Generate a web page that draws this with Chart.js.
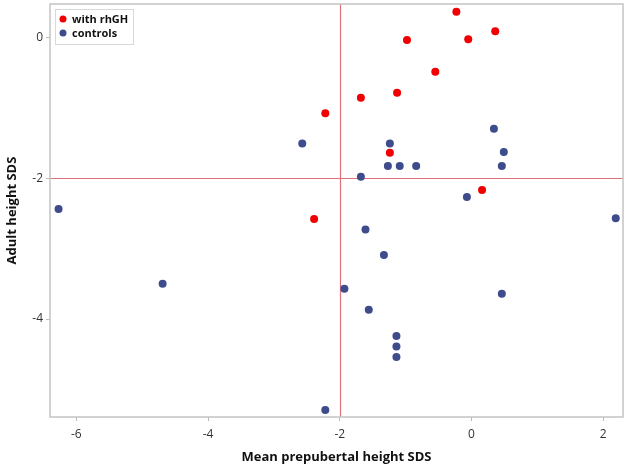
<!DOCTYPE html>
<html>
<head>
<meta charset="utf-8">
<script src="https://cdn.jsdelivr.net/npm/chart.js@4/dist/chart.umd.min.js"></script>
<style>
html,body{margin:0;padding:0;background:#fff;}
#wrap{width:627px;height:465px;position:relative;}
</style>
</head>
<body>
<div id="wrap"><canvas id="c"></canvas></div>
<script>
const seriesNames = ["with rhGH", "controls"];
const rhghX = [-0.23, 0.36, -0.98, -0.05, -0.55, -1.13, -1.68, -2.22, -1.24, 0.16, -2.39];
const rhghY = [0.36, 0.085, -0.04, -0.03, -0.49, -0.79, -0.86, -1.08, -1.64, -2.17, -2.58];
const ctrlX = [-2.57, 0.34, -1.24, 0.49, -1.27, -1.09, -0.84, 0.46, -1.68, -0.07, 2.19, -1.61, -6.27, -4.69, -1.33, -1.93, 0.46, -1.56, -1.14, -1.14, -1.14, -2.22];
const ctrlY = [-1.51, -1.30, -1.51, -1.63, -1.83, -1.83, -1.83, -1.83, -1.98, -2.27, -2.57, -2.73, -2.44, -3.50, -3.09, -3.57, -3.64, -3.87, -4.24, -4.39, -4.54, -5.29];
const xTicks = [-6, -4, -2, 0, 2];
const yTicks = [-4, -2, 0];
const refX = -2;
const refY = -2;

const toPts = (xs, ys) => xs.map((x, i) => ({x: x, y: ys[i]}));

const refPlugin = {
  id: 'refs',
  beforeDatasetsDraw(chart) {
    const {ctx, chartArea: a, scales} = chart;
    ctx.save();
    ctx.strokeStyle = '#e0707a';
    ctx.lineWidth = 1.2;
    const px = Math.round(scales.x.getPixelForValue(refX)) + 0.5;
    const py = Math.round(scales.y.getPixelForValue(refY)) + 0.5;
    ctx.beginPath(); ctx.moveTo(px, a.top); ctx.lineTo(px, a.bottom); ctx.stroke();
    ctx.beginPath(); ctx.moveTo(a.left, py); ctx.lineTo(a.right, py); ctx.stroke();
    ctx.restore();
  },
  afterDraw(chart) {
    const {ctx, chartArea: a} = chart;
    ctx.save();
    ctx.strokeStyle = '#c4c4c4';
    ctx.lineWidth = 1.5;
    ctx.strokeRect(a.left, a.top, a.right - a.left, a.bottom - a.top);
    const lx = a.left + 5, ly = a.top + 5, lw = 78, lh = 35;
    ctx.fillStyle = '#fff';
    ctx.fillRect(lx, ly, lw, lh);
    ctx.strokeStyle = '#d8d8d8';
    ctx.lineWidth = 1;
    ctx.strokeRect(lx + 0.5, ly + 0.5, lw, lh);
    ctx.font = 'bold 11px "Open Sans", sans-serif';
    ctx.textBaseline = 'middle';
    chart.data.datasets.forEach((ds, i) => {
      const cy = ly + 11 + i * 14;
      ctx.fillStyle = ds.backgroundColor;
      ctx.beginPath(); ctx.arc(lx + 8, cy - 1, 3.5, 0, Math.PI * 2); ctx.fill();
      ctx.fillStyle = '#111';
      ctx.fillText(ds.label, lx + 17, cy);
    });
    ctx.restore();
  }
};

new Chart(document.getElementById('c'), {
  type: 'scatter',
  data: {
    datasets: [
      {label: seriesNames[0], data: toPts(rhghX, rhghY), backgroundColor: '#f00000', borderColor: '#f00000', pointRadius: 4, pointHoverRadius: 4, borderWidth: 0},
      {label: seriesNames[1], data: toPts(ctrlX, ctrlY), backgroundColor: '#3e4c8c', borderColor: '#3e4c8c', pointRadius: 4, pointHoverRadius: 4, borderWidth: 0}
    ]
  },
  options: {
    responsive: true,
    maintainAspectRatio: false,
    animation: false,
    devicePixelRatio: 1,
    layout: {padding: {top: 3, right: 4, left: 0, bottom: 0}},
    plugins: {legend: {display: false}, tooltip: {enabled: false}},
    scales: {
      x: {
        type: 'linear', min: -6.4, max: 2.3,
        afterBuildTicks: s => { s.ticks = xTicks.map(v => ({value: v})); },
        afterFit: s => { s.height = 48; s.paddingLeft = 0; s.paddingRight = 0; },
        grid: {display: true, drawOnChartArea: false, tickLength: 4, color: '#bbb'},
        border: {display: false},
        ticks: {color: '#333', font: {family: '"Open Sans", sans-serif', size: 12}, padding: 6},
        title: {display: true, text: 'Mean prepubertal height SDS', color: '#111', font: {family: '"Open Sans", sans-serif', size: 13, weight: 'bold'}, padding: {top: 0, bottom: 0}}
      },
      y: {
        type: 'linear', min: -5.39, max: 0.47,
        afterBuildTicks: s => { s.ticks = yTicks.map(v => ({value: v})); },
        afterFit: s => { s.width = 50; s.paddingTop = 0; s.paddingBottom = 0; },
        grid: {display: true, drawOnChartArea: false, tickLength: 4, color: '#bbb'},
        border: {display: false},
        ticks: {color: '#333', font: {family: '"Open Sans", sans-serif', size: 12}, padding: 3},
        title: {display: true, text: 'Adult height SDS', color: '#111', font: {family: '"Open Sans", sans-serif', size: 13, weight: 'bold'}, padding: {top: 4, bottom: 0}}
      }
    }
  },
  plugins: [refPlugin]
});
</script>
</body>
</html>
